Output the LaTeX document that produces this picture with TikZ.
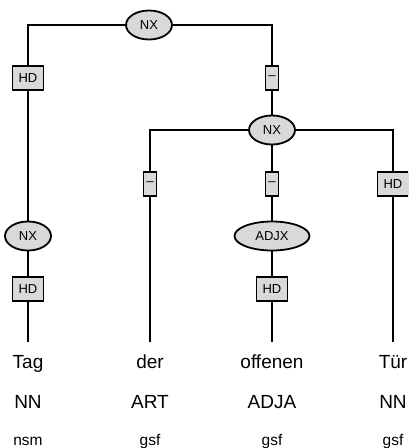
\documentclass[tikz,border=0pt]{standalone}
\usepackage{fontspec}
\setmainfont{Liberation Sans}
\usetikzlibrary{shapes.geometric}
\definecolor{boxgray}{HTML}{D9D9D9}
\tikzset{
  conn/.style={line width=1.8pt, black},
  cat/.style={ellipse, draw, line width=1.8pt, fill=boxgray, minimum width=46pt, minimum height=29pt, inner sep=0pt, font=\fontsize{13}{15}\selectfont},
  fn/.style={rectangle, draw, line width=1.8pt, fill=boxgray, minimum width=31pt, minimum height=24pt, inner sep=0pt, font=\fontsize{13}{15}\selectfont},
  dashbox/.style={rectangle, draw, line width=1.8pt, fill=boxgray, minimum width=13pt, minimum height=24pt, inner sep=0pt, font=\fontsize{13}{15}\selectfont},
  word/.style={anchor=base, inner sep=0pt, font=\fontsize{19}{22}\selectfont},
  morph/.style={anchor=base, inner sep=0pt, font=\fontsize{15.5}{18}\selectfont}
}
\begin{document}
\begin{tikzpicture}[x=1pt,y=-1pt]
\useasboundingbox (0,0) rectangle (408,448);
\clip (0,0) rectangle (408,448);
% nodes
\node[cat] (nx1) at (149,25) {NX};
\node[fn] (hd1) at (28,78) {HD};
\node[dashbox] (d1) at (272,78) {--};
\node[cat] (nx2) at (272,130) {NX};
\node[dashbox] (d2) at (150,184) {--};
\node[dashbox] (d3) at (272,184) {--};
\node[fn] (hd4) at (393,184) {HD};
\node[cat] (nx3) at (28,236) {NX};
\node[cat, minimum width=75pt] (adjx) at (272,236) {ADJX};
\node[fn] (hd2) at (28,289) {HD};
\node[fn] (hd3) at (272,289) {HD};
\coordinate (e1) at (28,342);
\coordinate (e2) at (150,342);
\coordinate (e3) at (272,342);
\coordinate (e4) at (393,342);
% words
\node[word] (w1) at (28,368) {Tag};
\node[word] (w2) at (150,368) {der};
\node[word] (w3) at (272,368) {offenen};
\node[word] (w4) at (393,368) {Tür};
\node[word] (p1) at (28,408) {NN};
\node[word] (p2) at (150,408) {ART};
\node[word] (p3) at (272,408) {ADJA};
\node[word] (p4) at (393,408) {NN};
\node[morph] (m1) at (28,445) {nsm};
\node[morph] (m2) at (150,445) {gsf};
\node[morph] (m3) at (272,445) {gsf};
\node[morph] (m4) at (393,445) {gsf};
% connectors
\draw[conn] (nx1.west) -| (hd1.north);
\draw[conn] (nx1.east) -| (d1.north);
\draw[conn] (d1.south) -- (nx2.north);
\draw[conn] (nx2.west) -| (d2.north);
\draw[conn] (nx2.south) -- (d3.north);
\draw[conn] (nx2.east) -| (hd4.north);
\draw[conn] (hd1.south) -- (nx3.north);
\draw[conn] (nx3.south) -- (hd2.north);
\draw[conn] (hd2.south) -- (e1);
\draw[conn] (d2.south) -- (e2);
\draw[conn] (d3.south) -- (adjx.north);
\draw[conn] (adjx.south) -- (hd3.north);
\draw[conn] (hd3.south) -- (e3);
\draw[conn] (hd4.south) -- (e4);
\end{tikzpicture}
\end{document}
